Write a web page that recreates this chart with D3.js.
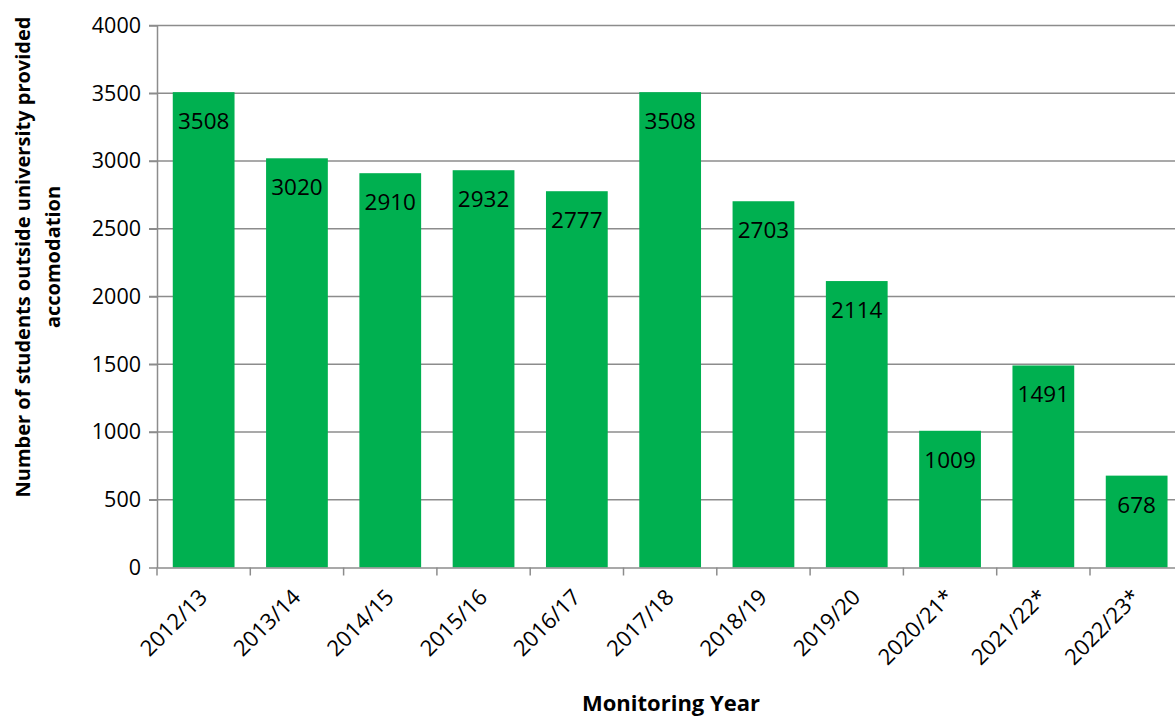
<!DOCTYPE html>
<html><head><meta charset="utf-8">
<script src="https://cdn.jsdelivr.net/npm/d3@7"></script>
<style>body{margin:0;background:#fff}svg{display:block}text{font-family:"Open Sans","Noto Sans",sans-serif}</style>
</head><body>
<svg id="c" width="1175" height="717"></svg>
<script>
const categories = ["2012/13","2013/14","2014/15","2015/16","2016/17","2017/18","2018/19","2019/20","2020/21*","2021/22*","2022/23*"];
const values = [3508,3020,2910,2932,2777,3508,2703,2114,1009,1491,678];
const yTicks = [0,500,1000,1500,2000,2500,3000,3500,4000];

(function(){
const svg = d3.select("#c");
const mLeft = 157, mRight = 157 + 11*93.3, mTop = 25.5, mBottom = 567.5;
const x = d3.scaleBand().domain(categories).range([mLeft, mRight]).paddingInner(0.338).paddingOuter(0.169);
const y = d3.scaleLinear().domain([0,4000]).range([mBottom, mTop]);
const grid = "#8c8c8c";

// gridlines
svg.append("g").selectAll("line").data(yTicks.filter(d=>d>0)).join("line")
  .attr("x1", mLeft-8).attr("x2", mRight).attr("y1", d=>y(d)).attr("y2", d=>y(d))
  .attr("stroke", grid).attr("stroke-width", 1.5);

// bars
svg.append("g").selectAll("rect").data(values).join("rect")
  .attr("x", (d,i)=>x(categories[i])).attr("width", x.bandwidth())
  .attr("y", d=>y(d)).attr("height", d=>mBottom - y(d))
  .attr("fill", "#00b050");

// y axis
const ya = svg.append("g").attr("transform", `translate(${mLeft},0)`)
  .call(d3.axisLeft(y).tickValues(yTicks).tickFormat(d3.format("d")).tickSize(8).tickSizeOuter(0).tickPadding(8));
ya.select(".domain").attr("stroke", grid).attr("stroke-width", 1.5);
ya.selectAll(".tick line").attr("stroke", grid).attr("stroke-width", 1.5);
ya.selectAll(".tick text").style("font-size", "21.5px").attr("fill", "#000");

// x axis
const xa = svg.append("g").attr("transform", `translate(0,${mBottom})`)
  .call(d3.axisBottom(x).tickSize(0).tickSizeOuter(0));
xa.select(".domain").attr("stroke", grid).attr("stroke-width", 1.5);
xa.selectAll(".tick text").style("font-size", "22px").attr("fill", "#000")
  .attr("text-anchor", "end").attr("dy", 0).attr("y", 0)
  .attr("transform", "translate(5,31) rotate(-45)");
const bounds = d3.range(categories.length+1).map(i => mLeft + i*x.step());
xa.append("g").selectAll("line").data(bounds).join("line")
  .attr("x1", d=>d).attr("x2", d=>d).attr("y1", 0).attr("y2", 8)
  .attr("stroke", grid).attr("stroke-width", 1.5);

// value labels
svg.append("g").selectAll("text").data(values).join("text")
  .attr("x", (d,i)=>x(categories[i]) + x.bandwidth()/2)
  .attr("y", d=>y(d) + 37)
  .attr("text-anchor", "middle").style("font-size", "22.5px").attr("fill", "#000")
  .text(d=>d);

// axis titles
svg.append("text").attr("x", 671).attr("y", 711).attr("text-anchor","middle")
  .style("font-size", "22px").attr("font-weight", "bold").text("Monitoring Year");
const yt = svg.append("text").attr("transform", "translate(0,257) rotate(-90)")
  .attr("text-anchor","middle").style("font-size", "20px").attr("font-weight","bold");
yt.append("tspan").attr("x",0).attr("y",30).text("Number of students outside university provided");
yt.append("tspan").attr("x",0).attr("y",60).text("accomodation");
})();
</script>
</body></html>
